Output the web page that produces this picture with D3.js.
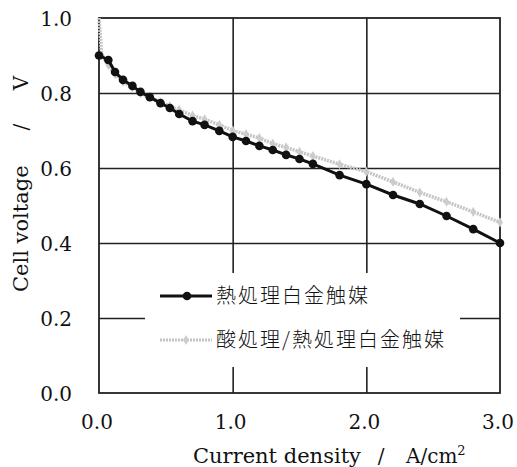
<!DOCTYPE html>
<html>
<head>
<meta charset="utf-8">
<script src="https://cdn.jsdelivr.net/npm/d3@7"></script>
<style>
  body { margin: 0; background: #fff; }
  text { fill: #111; white-space: pre; }
</style>
</head>
<body>
<script>
var svgWidth = 517;
var svgHeight = 467;

// data
var xTicks = [0, 1, 2, 3];
var yTicks = [0, 0.2, 0.4, 0.6, 0.8, 1.0];

var heatX = [0, 0.07, 0.12, 0.18, 0.25, 0.31, 0.38, 0.46, 0.53, 0.6, 0.7, 0.79, 0.9, 1.0, 1.1, 1.2, 1.3, 1.4, 1.5, 1.6, 1.8, 2.0, 2.2, 2.4, 2.6, 2.8, 3.0];
var heatV = [0.90, 0.888, 0.856, 0.835, 0.819, 0.803, 0.789, 0.773, 0.76, 0.744, 0.725, 0.715, 0.699, 0.683, 0.672, 0.659, 0.648, 0.635, 0.624, 0.611, 0.581, 0.557, 0.528, 0.504, 0.472, 0.437, 0.40];

var acidX = [0, 0.02, 0.07, 0.12, 0.18, 0.25, 0.31, 0.38, 0.46, 0.53, 0.6, 0.7, 0.79, 0.9, 1.0, 1.1, 1.2, 1.3, 1.4, 1.5, 1.6, 1.8, 2.0, 2.2, 2.4, 2.6, 2.8, 3.0];
var acidV = [1.0, 0.90, 0.875, 0.85, 0.83, 0.815, 0.80, 0.79, 0.775, 0.765, 0.755, 0.74, 0.73, 0.715, 0.70, 0.69, 0.68, 0.665, 0.655, 0.643, 0.632, 0.61, 0.59, 0.563, 0.535, 0.51, 0.483, 0.455];

var legendLabels = ["熱処理白金触媒", "酸処理/熱処理白金触媒"];

var plotLeft = 99, plotRight = 500, plotTop = 18, plotBottom = 393;

var x = d3.scaleLinear().domain([0, 3]).range([plotLeft, plotRight]);
var y = d3.scaleLinear().domain([0, 1]).range([plotBottom, plotTop]);

var svg = d3.select("body").append("svg").attr("width", svgWidth).attr("height", svgHeight);

var serif = "'DejaVu Serif', serif";

// grid
svg.append("g")
    .attr("transform", "translate(0," + plotBottom + ")")
    .call(d3.axisBottom(x).tickValues([1, 2]).tickSize(-(plotBottom - plotTop)).tickFormat(""))
    .call(function(g) { g.select(".domain").remove(); })
    .selectAll("line").attr("stroke", "#222").attr("stroke-width", 1.6);

svg.append("g")
    .attr("transform", "translate(" + plotLeft + ",0)")
    .call(d3.axisLeft(y).tickValues([0.2, 0.4, 0.6, 0.8]).tickSize(-(plotRight - plotLeft)).tickFormat(""))
    .call(function(g) { g.select(".domain").remove(); })
    .selectAll("line").attr("stroke", "#222").attr("stroke-width", 1.6);

// legend box blanks the grid
svg.append("rect")
    .attr("x", 145).attr("y", 273).attr("width", 315).attr("height", 94)
    .attr("fill", "#fff");

// frame
svg.append("rect")
    .attr("x", plotLeft).attr("y", plotTop).attr("width", plotRight - plotLeft).attr("height", plotBottom - plotTop)
    .attr("fill", "none").attr("stroke", "#222").attr("stroke-width", 1.8);

// tick labels
svg.append("g").selectAll("text").data(yTicks).join("text")
    .attr("x", 72).attr("y", function(d) { return y(d) + 1; })
    .attr("dy", "0.36em")
    .attr("text-anchor", "end")
    .style("font-family", serif).style("font-size", "20px")
    .text(function(d) { return d3.format(".1f")(d); });

svg.append("g").selectAll("text").data(xTicks).join("text")
    .attr("x", function(d) { return x(d) - 2; }).attr("y", 422)
    .attr("dy", "0.36em")
    .attr("text-anchor", "middle")
    .style("font-family", serif).style("font-size", "20px")
    .text(function(d) { return d3.format(".1f")(d); });

// axis titles
svg.append("text").attr("x", 193).attr("y", 463)
    .style("font-family", serif).style("font-size", "21px")
    .text("Current density");
svg.append("text").attr("x", 381).attr("y", 463).attr("text-anchor", "middle")
    .style("font-family", serif).style("font-size", "20px")
    .text("/");
var unit = svg.append("text").attr("x", 406).attr("y", 463)
    .style("font-family", serif).style("font-size", "20px");
unit.append("tspan").text("A/cm");
unit.append("tspan").attr("dy", -8).style("font-size", "13px").text("2");

var yt = svg.append("g").attr("transform", "translate(28,0) rotate(-90)")
    .style("font-family", serif).style("font-size", "21px");
yt.append("text").attr("x", -292).text("Cell voltage");
yt.append("text").attr("x", -127).attr("text-anchor", "middle").style("font-size", "20px").text("/");
yt.append("text").attr("x", -83).attr("text-anchor", "middle").style("font-size", "20px").text("V");

// series
var line = d3.line()
    .x(function(d) { return x(d[0]); })
    .y(function(d) { return y(d[1]); });

var acid = d3.zip(acidX, acidV);
var heat = d3.zip(heatX, heatV);

svg.append("path").datum(acid)
    .attr("d", line)
    .attr("fill", "none").attr("stroke", "#c4c4c4").attr("stroke-width", 3.5)
    .attr("stroke-dasharray", "2,1");

svg.append("g").selectAll("path").data(acid.slice(1)).join("path")
    .attr("d", d3.symbol().type(d3.symbolDiamond).size(30))
    .attr("transform", function(d) { return "translate(" + x(d[0]) + "," + y(d[1]) + ")"; })
    .attr("fill", "#cccccc");

svg.append("path").datum(heat)
    .attr("d", line)
    .attr("fill", "none").attr("stroke", "#111").attr("stroke-width", 3);

svg.append("g").selectAll("circle").data(heat).join("circle")
    .attr("cx", function(d) { return x(d[0]); })
    .attr("cy", function(d) { return y(d[1]); })
    .attr("r", 4.3)
    .attr("fill", "#111");

// legend
var lg = svg.append("g");
lg.append("line").attr("x1", 160).attr("x2", 212).attr("y1", 296).attr("y2", 296)
    .attr("stroke", "#111").attr("stroke-width", 3);
lg.append("circle").attr("cx", 187).attr("cy", 296).attr("r", 4.3).attr("fill", "#111");

lg.append("line").attr("x1", 160).attr("x2", 212).attr("y1", 340).attr("y2", 340)
    .attr("stroke", "#c4c4c4").attr("stroke-width", 3).attr("stroke-dasharray", "2,1");
lg.append("path").attr("d", d3.symbol().type(d3.symbolDiamond).size(30))
    .attr("transform", "translate(186,340)").attr("fill", "#cccccc");

lg.selectAll("text").data(legendLabels).join("text")
    .attr("x", 216).attr("y", function(d, i) { return 296 + i * 44; })
    .attr("dy", "0.36em")
    .style("font-family", "'Noto Sans CJK JP', sans-serif")
    .style("font-size", "20px").style("font-weight", 300)
    .style("letter-spacing", "2px")
    .text(function(d) { return d; });
</script>
</body>
</html>
